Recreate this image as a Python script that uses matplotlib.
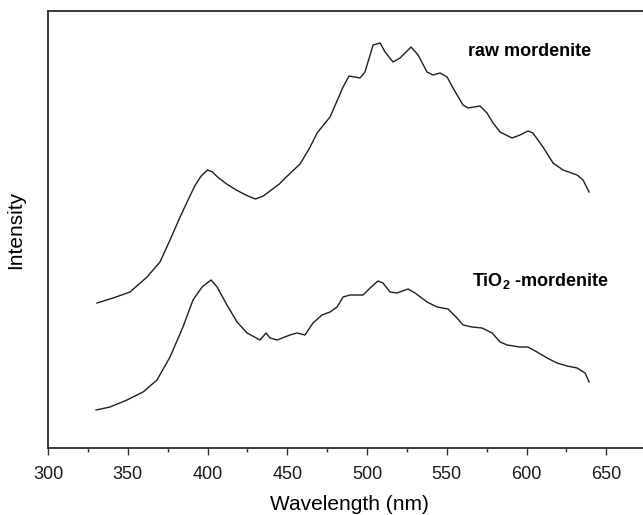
import matplotlib.pyplot as plt
from matplotlib.ticker import MultipleLocator

plt.rcParams['font.family'] = ['Liberation Sans', 'DejaVu Sans']
plt.rcParams['mathtext.fontset'] = 'custom'
plt.rcParams['mathtext.rm'] = 'Liberation Sans'
plt.rcParams['mathtext.bf'] = 'Liberation Sans:bold'

# --- Spectra (wavelength in nm, intensity in a.u.) ---
raw_wl = [330.7, 340.8, 351.4, 362.1, 370.2, 376.5, 382.8, 387.8, 392.0, 396.0,
          400.0, 403.0, 407.0, 412.0, 418.0, 424.0, 430.0, 435.0, 440.0, 445.0,
          450.0, 454.0, 458.0, 464.0, 468.7, 476.8, 485.0, 488.7, 495.6, 498.7,
          503.8, 508.2, 511.3, 516.3, 520.7, 527.6, 532.0, 537.6, 541.4, 545.8,
          550.2, 553.9, 560.2, 563.3, 570.8, 575.2, 579.0, 583.4, 590.9, 595.9,
          600.9, 604.0, 610.3, 616.6, 622.9, 631.7, 635.4, 639.2]
raw_int = [145, 150, 156, 171, 186, 208, 231, 248, 262, 272,
           278, 276, 270, 264, 258, 253, 249, 252, 258, 264,
           272, 278, 284, 300, 315, 331, 361, 372, 370, 376,
           403, 405, 396, 386, 390, 401, 393, 376, 373, 375,
           371, 360, 343, 340, 342, 335, 325, 316, 310, 313,
           317, 315, 301, 285, 278, 273, 268, 256]

tio2_wl = [330.1, 338.9, 349.5, 359.6, 368.3, 376.5, 384.6, 390.9, 396.6, 399.7,
           402.2, 406.0, 412.2, 418.5, 424.8, 432.9, 436.7, 439.2, 443.6, 451.7,
           456.1, 461.1, 466.1, 471.8, 476.8, 481.2, 485.0, 489.3, 497.5, 501.9,
           506.9, 510.0, 514.4, 518.8, 525.7, 530.1, 537.6, 543.9, 550.8, 556.4,
           560.2, 565.8, 572.1, 578.4, 583.4, 587.8, 595.9, 600.9, 606.6, 612.9,
           619.1, 625.4, 631.7, 636.7, 639.2]
tio2_int = [38, 41, 48, 56, 68, 91, 121, 148, 161, 165,
            168, 161, 143, 126, 115, 108, 115, 110, 108, 113,
            115, 113, 125, 133, 136, 141, 151, 153, 153, 160,
            167, 165, 156, 155, 159, 155, 146, 141, 139, 130,
            123, 121, 120, 115, 106, 103, 101, 101, 96, 90,
            85, 82, 80, 75, 66]

labels = ['raw mordenite', r'TiO$_\mathbf{2}$ -mordenite']

fig = plt.figure(figsize=(6.43, 5.15), dpi=100)
ax = fig.add_axes([48 / 643, 67 / 515, 595 / 643, 437 / 515])

line_kw = dict(color='#1e1e1e', linewidth=1.0)
ax.plot(raw_wl, raw_int, **line_kw)
ax.plot(tio2_wl, tio2_int, **line_kw)

ax.text(563, 396, labels[0], fontsize=13, fontweight='bold', va='center', ha='left')
ax.text(566, 167, labels[1], fontsize=13, fontweight='bold', va='center', ha='left')

ax.set_xlim(300, 673)
ax.set_ylim(0, 437)

ax.xaxis.set_major_locator(MultipleLocator(50))
ax.xaxis.set_minor_locator(MultipleLocator(25))
ax.tick_params(axis='x', which='major', direction='out', length=5, width=1.0,
               color='#333333', labelsize=13, labelcolor='#1a1a1a', pad=8)
ax.tick_params(axis='x', which='minor', direction='out', length=3, width=1.0,
               color='#333333')
ax.set_yticks([])

for side in ['left', 'bottom', 'top']:
    ax.spines[side].set_linewidth(1.3)
    ax.spines[side].set_color('#2a2a2a')
ax.spines['right'].set_visible(False)

ax.set_xlabel('Wavelength (nm)', fontsize=15)
ax.set_ylabel('Intensity', fontsize=15)
ax.xaxis.set_label_coords(0.506, -0.13, transform=ax.transAxes)
ax.yaxis.set_label_coords(-0.054, 0.5)
ax.xaxis.label.set_va('center')
ax.yaxis.label.set_va('center')

plt.savefig('out.png', dpi=100)
